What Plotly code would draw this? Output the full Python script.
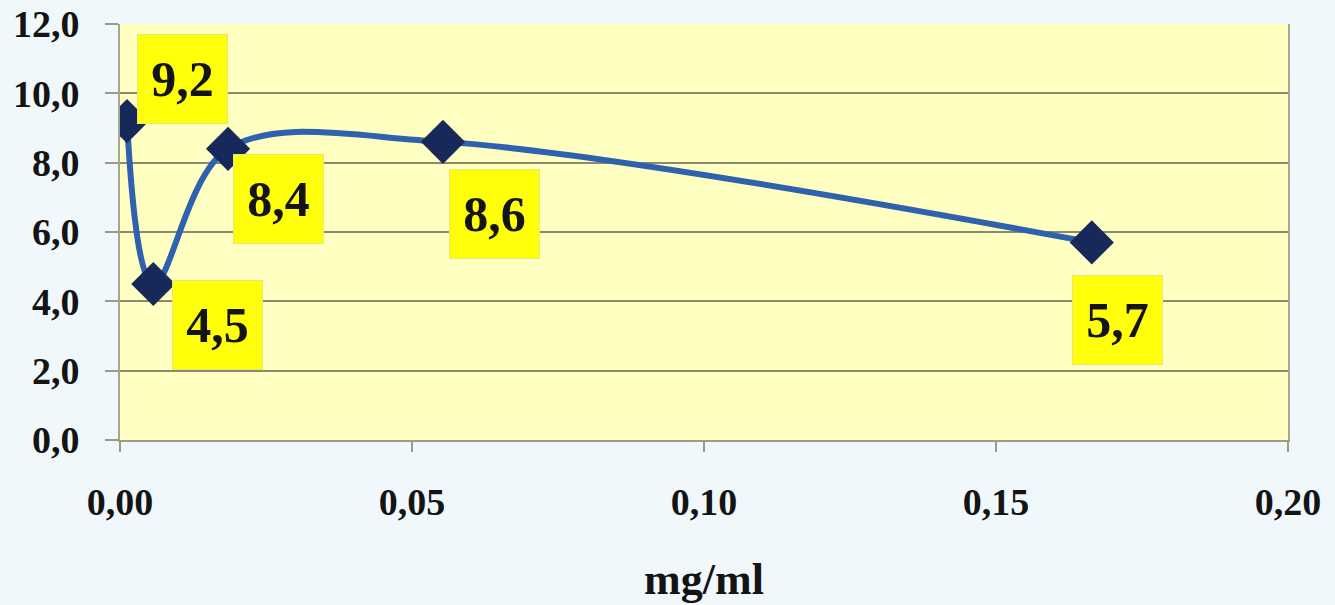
import plotly.graph_objects as go

conc = [0.0012, 0.0057, 0.0185, 0.0553, 0.1664]
values = [9.2, 4.5, 8.4, 8.6, 5.7]
labels = ["9,2", "4,5", "8,4", "8,6", "5,7"]
label_dx = [55, 64, 50, 52, 26]
label_dy = [42, -41, -50, -72, -78]

x_ticks = [0, 0.05, 0.10, 0.15, 0.20]
x_ticktext = ["0,00", "0,05", "0,10", "0,15", "0,20"]
y_ticks = [0, 2, 4, 6, 8, 10, 12]
y_ticktext = ["0,0", "2,0", "4,0", "6,0", "8,0", "10,0", "12,0"]

font_family = "Liberation Serif"

fig = go.Figure()
fig.add_trace(go.Scatter(
    x=conc, y=values, mode="lines+markers",
    line=dict(color="#2E62AE", width=6, shape="spline", smoothing=1.0),
    marker=dict(symbol="diamond", size=34, color="#17295A",
                line=dict(width=0)),
    showlegend=False, hoverinfo="skip",
))

for xv, yv, t, dx, dy in zip(conc, values, labels, label_dx, label_dy):
    fig.add_annotation(
        x=xv, y=yv, xref="x", yref="y", text="<b>" + t + "</b>",
        showarrow=False, xshift=dx, yshift=dy,
        width=87, height=86, bgcolor="#FFFF0A",
        bordercolor="#E6E67A", borderwidth=1,
        font=dict(family=font_family, size=50, color="#141414"),
    )

fig.update_layout(
    width=1335, height=605,
    margin=dict(l=120, r=47, t=24, b=165),
    paper_bgcolor="#F1F8FC",
    plot_bgcolor="#FFFFC2",
    font=dict(family=font_family, color="#141414"),
)
fig.update_xaxes(
    range=[0, 0.2], tickvals=x_ticks,
    ticktext=["<b>" + t + "</b>" for t in x_ticktext],
    showgrid=False, zeroline=False, automargin=False,
    showline=True, linecolor="#9C9C84", linewidth=2,
    ticks="outside", ticklen=10, tickcolor="#9C9C84", tickwidth=2,
    ticklabelstandoff=17,
    tickfont=dict(family=font_family, size=38, color="#141414"),
    title=dict(text="<b>mg/ml</b>", standoff=42,
               font=dict(family=font_family, size=44, color="#141414")),
)
fig.update_yaxes(
    range=[0, 12], tickvals=y_ticks,
    ticktext=["<b>" + t + "</b>" for t in y_ticktext],
    showgrid=True, gridcolor="#8A8A6C", gridwidth=2, zeroline=False,
    automargin=False,
    showline=True, mirror=True, linecolor="#A6A68E", linewidth=2,
    ticks="outside", ticklen=13, tickcolor="#9C9C84", tickwidth=2,
    ticklabelstandoff=18,
    tickfont=dict(family=font_family, size=38, color="#141414"),
)

fig.write_html(
    "out.html",
    config={"displayModeBar": False},
    post_script="document.body.style.margin='0';document.body.style.overflow='hidden';",
)
